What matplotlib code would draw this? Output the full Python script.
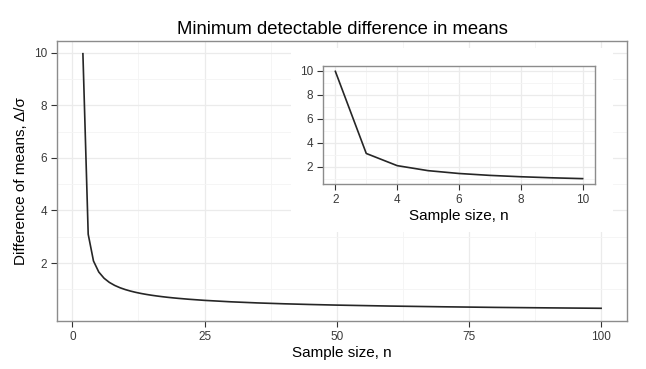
import matplotlib
matplotlib.use("Agg")
import matplotlib.pyplot as plt
from matplotlib.patches import Rectangle

# Data: minimum detectable difference Δ/σ vs sample size n
n_main = [2, 3, 4, 5, 6, 7, 8, 9, 10, 11, 12, 13, 14, 15, 16, 17, 18, 19, 20,
          22, 25, 30, 35, 40, 45, 50, 60, 70, 80, 90, 100]
delta_main = [9.957, 3.097, 2.080, 1.662, 1.425, 1.267, 1.153, 1.065, 0.995,
              0.937, 0.888, 0.846, 0.810, 0.778, 0.750, 0.724, 0.701, 0.680,
              0.661, 0.627, 0.584, 0.529, 0.487, 0.454, 0.427, 0.404, 0.368,
              0.340, 0.317, 0.299, 0.283]
n_inset = [2, 3, 4, 5, 6, 7, 8, 9, 10]
delta_inset = [9.957, 3.097, 2.080, 1.662, 1.425, 1.267, 1.153, 1.065, 0.995]

main_xticks = [0, 25, 50, 75, 100]
main_xminor = [12.5, 37.5, 62.5, 87.5]
main_yticks = [2, 4, 6, 8, 10]
main_yminor = [1, 3, 5, 7, 9]
inset_xticks = [2, 4, 6, 8, 10]
inset_xminor = [3, 5, 7, 9]
inset_yticks = [2, 4, 6, 8, 10]
inset_yminor = [1, 3, 5, 7, 9]

title = "Minimum detectable difference in means"
xlabel = "Sample size, n"
ylabel = "Difference of means, Δ/σ"

plt.rcParams['font.family'] = ['Liberation Sans', 'DejaVu Sans']

W, H = 646, 369
fig = plt.figure(figsize=(W / 100, H / 100), dpi=100)


def style(ax, xt, xm, yt, ym, xlim, ylim, fs):
    ax.set_xlim(*xlim)
    ax.set_ylim(*ylim)
    ax.set_xticks(xt)
    ax.set_xticks(xm, minor=True)
    ax.set_yticks(yt)
    ax.set_yticks(ym, minor=True)
    ax.set_xticklabels([str(v) for v in xt])
    ax.set_yticklabels([str(v) for v in yt])
    ax.grid(True, which='major', color='#ebebeb', lw=0.9)
    ax.grid(True, which='minor', color='#f4f4f4', lw=0.6)
    ax.set_axisbelow(True)
    for s in ax.spines.values():
        s.set_color('#8c8c8c')
        s.set_linewidth(1.0)
    ax.tick_params(which='major', length=4, width=0.8, color='#333333',
                   labelsize=fs, labelcolor='#3a3a3a', pad=3)
    ax.tick_params(which='minor', length=0)


def px_axes(l, t, r, b, **kw):
    return fig.add_axes([l / W, 1 - b / H, (r - l) / W, (b - t) / H], **kw)


ax = px_axes(57, 41, 627, 321)
ax.plot(n_main, delta_main, color='#262626', lw=1.2)
style(ax, main_xticks, main_xminor, main_yticks, main_yminor,
      (-2.9, 104.9), (-0.2, 10.44), 8.5)
ax.set_title(title, fontsize=13.3, pad=5)
ax.set_xlabel(xlabel, fontsize=11, labelpad=2)
ax.set_ylabel(ylabel, fontsize=11, labelpad=4)

# white background of inset viewport
bg = px_axes(291, 48, 613, 232, zorder=5)
bg.set_axis_off()
bg.add_patch(Rectangle((0, 0), 1, 1, transform=bg.transAxes,
                       facecolor='white', edgecolor='none'))

ins = px_axes(323, 66, 595, 184, zorder=6)
ins.plot(n_inset, delta_inset, color='#262626', lw=1.2)
style(ins, inset_xticks, inset_xminor, inset_yticks, inset_yminor,
      (1.6, 10.4), (0.547, 10.405), 8.5)
ins.set_xlabel(xlabel, fontsize=11, labelpad=2)

fig.savefig("out.png", dpi=100)
